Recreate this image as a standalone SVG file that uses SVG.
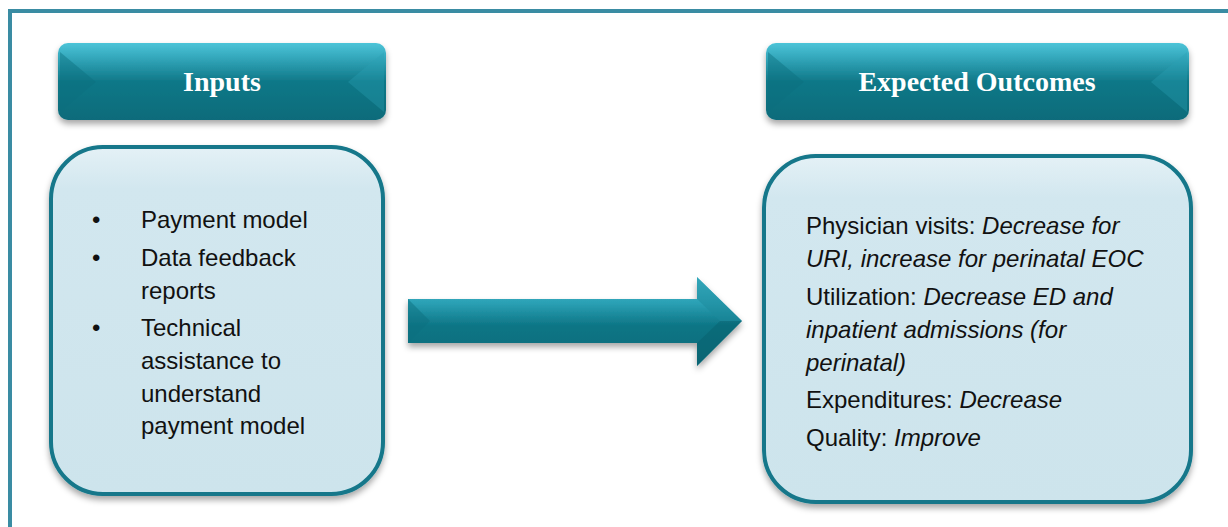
<svg xmlns="http://www.w3.org/2000/svg" width="1228" height="527" viewBox="0 0 1228 527">
  <defs>
    <linearGradient id="bannerFill" x1="0" y1="0" x2="0" y2="1">
      <stop offset="0" stop-color="#4cc4d8"/>
      <stop offset="0.18" stop-color="#35a9bd"/>
      <stop offset="0.5" stop-color="#0f7888"/>
      <stop offset="1" stop-color="#0a6b7a"/>
    </linearGradient>
    <linearGradient id="panelFill" x1="0" y1="0" x2="0" y2="1">
      <stop offset="0" stop-color="#e4f1f6"/>
      <stop offset="0.12" stop-color="#d2e7ef"/>
      <stop offset="1" stop-color="#cde4ec"/>
    </linearGradient>
    <linearGradient id="arrowFill" x1="0" y1="0" x2="0" y2="1">
      <stop offset="0" stop-color="#4cc4d8"/>
      <stop offset="0.3" stop-color="#2a9fb3"/>
      <stop offset="0.55" stop-color="#0d7585"/>
      <stop offset="1" stop-color="#0a6b7a"/>
    </linearGradient>
    <filter id="shadow" x="-10%" y="-10%" width="120%" height="130%">
      <feDropShadow dx="0" dy="4" stdDeviation="3" flood-color="#000" flood-opacity="0.35"/>
    </filter>
  </defs>
  <style>
    .frame { fill: none; stroke: #3a8ca3; stroke-width: 4; }
    .banner { fill: url(#bannerFill); filter: url(#shadow); }
    .bevel-dark { fill: #0b6f7f; opacity: 0.45; }
    .bevel-light { fill: #2aa0b4; opacity: 0.35; }
    .panel { fill: url(#panelFill); stroke: #13778a; stroke-width: 4; filter: url(#shadow); }
    .title { font-family: "Liberation Serif", "DejaVu Serif", serif; font-weight: bold; font-size: 28px; fill: #ffffff; text-anchor: middle; }
    .body { font-family: "Liberation Sans", "DejaVu Sans", sans-serif; font-size: 24px; fill: #111111; }
    .em { font-style: italic; }
  </style>

  <rect width="1228" height="527" fill="#ffffff"/>
  <!-- outer frame, open to the right and bottom -->
  <rect class="frame" x="10" y="11" width="1240" height="540"/>

  <!-- Inputs banner -->
  <g id="inputs-header">
    <rect class="banner" x="58" y="43" width="328" height="77" rx="10"/>
    <polygon class="bevel-dark" points="60,52 96,82 60,112"/>
    <polygon class="bevel-light" points="384,52 348,82 384,112"/>
    <text class="title" x="222" y="91">Inputs</text>
  </g>

  <!-- Expected Outcomes banner -->
  <g id="outcomes-header">
    <rect class="banner" x="766" y="43" width="423" height="77" rx="10"/>
    <polygon class="bevel-dark" points="768,52 804,82 768,112"/>
    <polygon class="bevel-light" points="1187,52 1151,82 1187,112"/>
    <text class="title" x="977" y="91">Expected Outcomes</text>
  </g>

  <!-- Inputs panel -->
  <g id="inputs-panel">
    <rect class="panel" x="51" y="147" width="332" height="347" rx="52"/>
    <text class="body">
      <tspan x="92" y="228">•</tspan><tspan x="141" y="228">Payment model</tspan>
      <tspan x="92" y="266">•</tspan><tspan x="141" y="266">Data feedback</tspan>
      <tspan x="141" y="299">reports</tspan>
      <tspan x="92" y="336">•</tspan><tspan x="141" y="336">Technical</tspan>
      <tspan x="141" y="369">assistance to</tspan>
      <tspan x="141" y="402">understand</tspan>
      <tspan x="141" y="434">payment model</tspan>
    </text>
  </g>

  <!-- Expected Outcomes panel -->
  <g id="outcomes-panel">
    <rect class="panel" x="764" y="156" width="427" height="346" rx="52"/>
    <text class="body">
      <tspan x="806" y="234">Physician visits: <tspan class="em">Decrease for</tspan></tspan>
      <tspan class="em" x="806" y="267">URI, increase for perinatal EOC</tspan>
      <tspan x="806" y="305">Utilization: <tspan class="em">Decrease ED and</tspan></tspan>
      <tspan class="em" x="806" y="338">inpatient admissions (for</tspan>
      <tspan class="em" x="806" y="371">perinatal)</tspan>
      <tspan x="806" y="408">Expenditures: <tspan class="em">Decrease</tspan></tspan>
      <tspan x="806" y="446">Quality: <tspan class="em">Improve</tspan></tspan>
    </text>
  </g>

  <!-- connector -->
  <g id="connectors">
    <path d="M408,299 H697 V277 L742,321 L697,366 V343 H408 Z" fill="url(#arrowFill)" filter="url(#shadow)"/>
    <polygon points="408,299 430,321 408,343" fill="#0b6f7f" opacity="0.5"/>
    <polygon points="697,277 742,321 720,321 697,299" fill="#1c8a9c" opacity="0.5"/>
    <polygon points="697,366 742,321 720,321 697,343" fill="#085c69" opacity="0.4"/>
  </g>
</svg>
